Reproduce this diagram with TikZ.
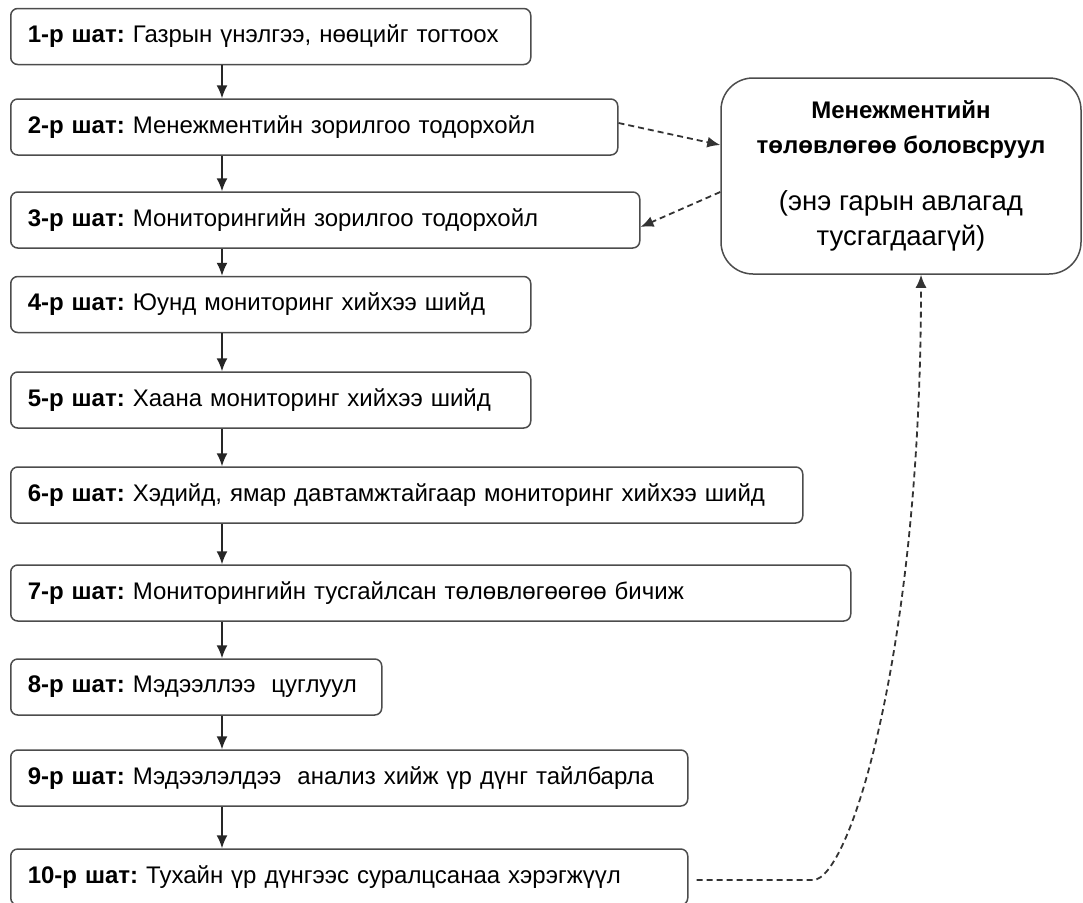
\documentclass[tikz,border=0pt]{standalone}
\usepackage{fontspec}
\setmainfont{Liberation Sans}
\usetikzlibrary{arrows.meta, positioning}
\frenchspacing
\newcommand{\notefont}{\fontsize{27.5}{35}\selectfont}

\begin{document}
\begin{tikzpicture}[x=1pt, y=-1pt, >={Latex[length=13pt, width=11pt]}, font=\fontsize{24}{28}\selectfont]
				\tikzstyle{stepbox} = [draw=black!70, line width=1.5pt, rounded corners=7pt, fill=white, anchor=west, align=left, minimum height=56pt, inner xsep=17pt]
				\tikzstyle{planbox} = [draw=black!70, line width=1.5pt, rounded corners=32pt, fill=white, align=center, minimum width=360pt, minimum height=196pt, font=\fontsize{24}{35}\selectfont]
				\tikzstyle{flow} = [->, line width=1.5pt, black!85]
				\tikzstyle{dashlink} = [->, line width=1.8pt, black!80, dash pattern=on 6pt off 4pt]
				
				\useasboundingbox (0, 0) rectangle (1083, 902);
				
				\node[stepbox, text width=486] at (10, 36.5)	(s1)	{\textbf{1-р шат:} Газрын үнэлгээ, нөөцийг тогтоох};
				\node[stepbox, text width=573] at (10, 127)		(s2)	{\textbf{2-р шат:} Менежментийн зорилгоо тодорхойл};
				\node[stepbox, text width=595] at (10, 220)		(s3)	{\textbf{3-р шат:} Мониторингийн зорилгоо тодорхойл};
				\node[stepbox, text width=486] at (10, 304.5)	(s4)	{\textbf{4-р шат:} Юунд мониторинг хийхээ шийд};
				\node[stepbox, text width=486] at (10, 400)		(s5)	{\textbf{5-р шат:} Хаана мониторинг хийхээ шийд};
				\node[stepbox, text width=758] at (10, 495)		(s6)	{\textbf{6-р шат:} Хэдийд, ямар давтамжтайгаар мониторинг хийхээ шийд};
				\node[stepbox, text width=806] at (10, 593)		(s7)	{\textbf{7-р шат:} Мониторингийн тусгайлсан төлөвлөгөөгөө бичиж};
				\node[stepbox, text width=337] at (10, 687)		(s8)	{\textbf{8-р шат:} Мэдээллээ\ \ цуглуул};
				\node[stepbox, text width=643] at (10, 778)		(s9)	{\textbf{9-р шат:} Мэдээлэлдээ\ \ анализ хийж үр дүнг тайлбарла};
				\node[stepbox, text width=643] at (10, 877)		(s10)	{\textbf{10-р шат:} Тухайн үр дүнгээс суралцсанаа хэрэгжүүл};
				
				\node[planbox] at (901, 176) (plan) {\textbf{Менежментийн}\\ \textbf{төлөвлөгөө боловсруул}\\[22pt] \notefont (энэ гарын авлагад\\ \notefont тусгагдаагүй)};
				
				\coordinate (bend) at (813, 880);
				
				% main steps
				\foreach \a/\b in {s1/s2, s2/s3, s3/s4, s4/s5, s5/s6, s6/s7, s7/s8, s8/s9, s9/s10}
					\draw[flow] ([xshift=212pt]\a.south west) -- ([xshift=212pt]\b.north west);
				
				% links to the plan
				\draw[dashlink] ([yshift=4pt]s2.east) -- ([yshift=31pt]plan.west);
				\draw[dashlink] ([yshift=-16pt]plan.west) -- ([yshift=-7pt]s3.east);
				\draw[dashlink] ([xshift=8pt, yshift=-3pt]s10.east) -- (bend) .. controls (850, 880) and (921, 650) .. ([xshift=20pt]plan.south);
\end{tikzpicture}
\end{document}
